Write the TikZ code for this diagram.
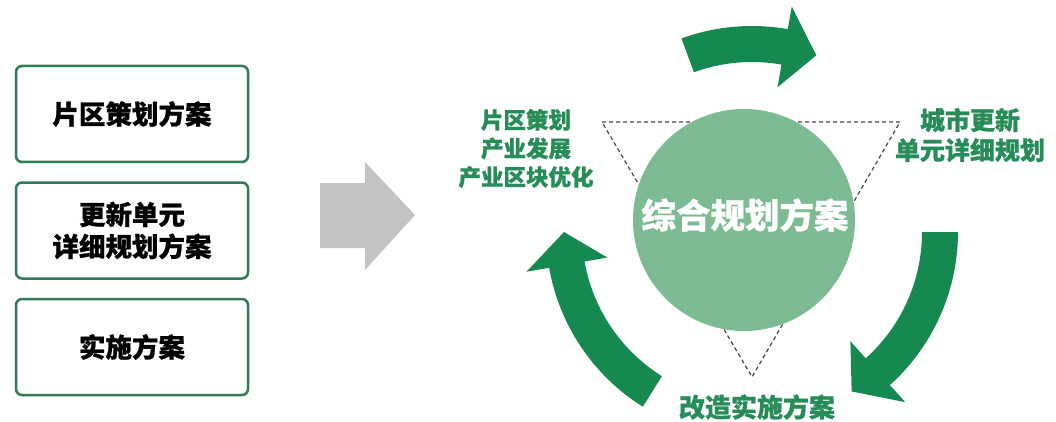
\documentclass[tikz,border=0pt]{standalone}
\usepackage{fontspec}
\usepackage{tikz}
\usetikzlibrary{calc,positioning}
\newfontfamily\cjk{Noto Sans CJK SC}[BoldFeatures={FakeBold=0.8}]
\definecolor{boxgreen}{RGB}{46,125,85}
\definecolor{cyclegreen}{RGB}{22,137,80}
\definecolor{labelgreen}{RGB}{38,140,88}
\definecolor{coregreen}{RGB}{125,187,146}
\definecolor{flowgray}{RGB}{195,195,195}
\definecolor{dashgray}{RGB}{70,70,70}

\newcommand\cyclearrow[3]{%
  \fill[cyclegreen] ($(C)+(#1:170)$) arc[start angle=#1, end angle=#2, radius=170]
    -- ($(C)+(#2:147)$) -- ($(C)+(#3:188)$) -- ($(C)+(#2:229)$)
    -- ($(C)+(#2:206)$) arc[start angle=#2, end angle=#1, radius=206] -- cycle;}

\begin{document}
\begin{tikzpicture}[x=1pt, y=1pt, node distance=116.5pt, font=\cjk\bfseries]
    \tikzstyle{plan box}=[draw=boxgreen, line width=2.5pt, rounded corners=6pt,
                          minimum width=232pt, minimum height=96pt, align=center,
                          font=\cjk\bfseries\fontsize{26.5}{32}\selectfont]
    \tikzstyle{step label}=[text=labelgreen, align=center, inner sep=0pt]

    \useasboundingbox (0,0) rectangle (1056,-422);

    \node[plan box] (A)                 at (132,-114) {片区策划方案};
    \node[plan box] (B) [below of=A]                  {更新单元\\详细规划方案};
    \node[plan box] (D) [below of=B]                  {实施方案};

    \fill[flowgray] (320,-183) -- (365,-183) -- (365,-162) -- (415,-215)
        -- (365,-270) -- (365,-248) -- (320,-248) -- cycle;

    \coordinate (C)  at (752,-232);
    \coordinate (t1) at (602,-122);
    \coordinate (t2) at (900,-122);
    \coordinate (t3) at (752,-377);
    \draw[dashgray, line width=1.2pt, dash pattern=on 4pt off 3pt] (t1) -- (t2) -- (t3) -- cycle;

    \cyclearrow{110}{80}{70}
    \cyclearrow{0}{-48}{-58}
    \cyclearrow{238}{190}{180}

    \node[circle, fill=coregreen, minimum size=222pt, inner sep=0pt] (core) at (744,-220) {};
    \node[text=white, font=\cjk\bfseries\fontsize{34.5}{40}\selectfont] (coretext) at (745,-215) {综合规划方案};

    \node[step label, font=\cjk\bfseries\fontsize{22.5}{28.5}\selectfont] (left)  at (526,-148.5) {片区策划\\产业发展\\产业区块优化};
    \node[step label, font=\cjk\bfseries\fontsize{25}{30}\selectfont]     (right) at (970,-135)   {城市更新\\单元详细规划};
    \node[step label, font=\cjk\bfseries\fontsize{26}{30}\selectfont]     (down)  at (757,-407)   {改造实施方案};
\end{tikzpicture}
\end{document}
